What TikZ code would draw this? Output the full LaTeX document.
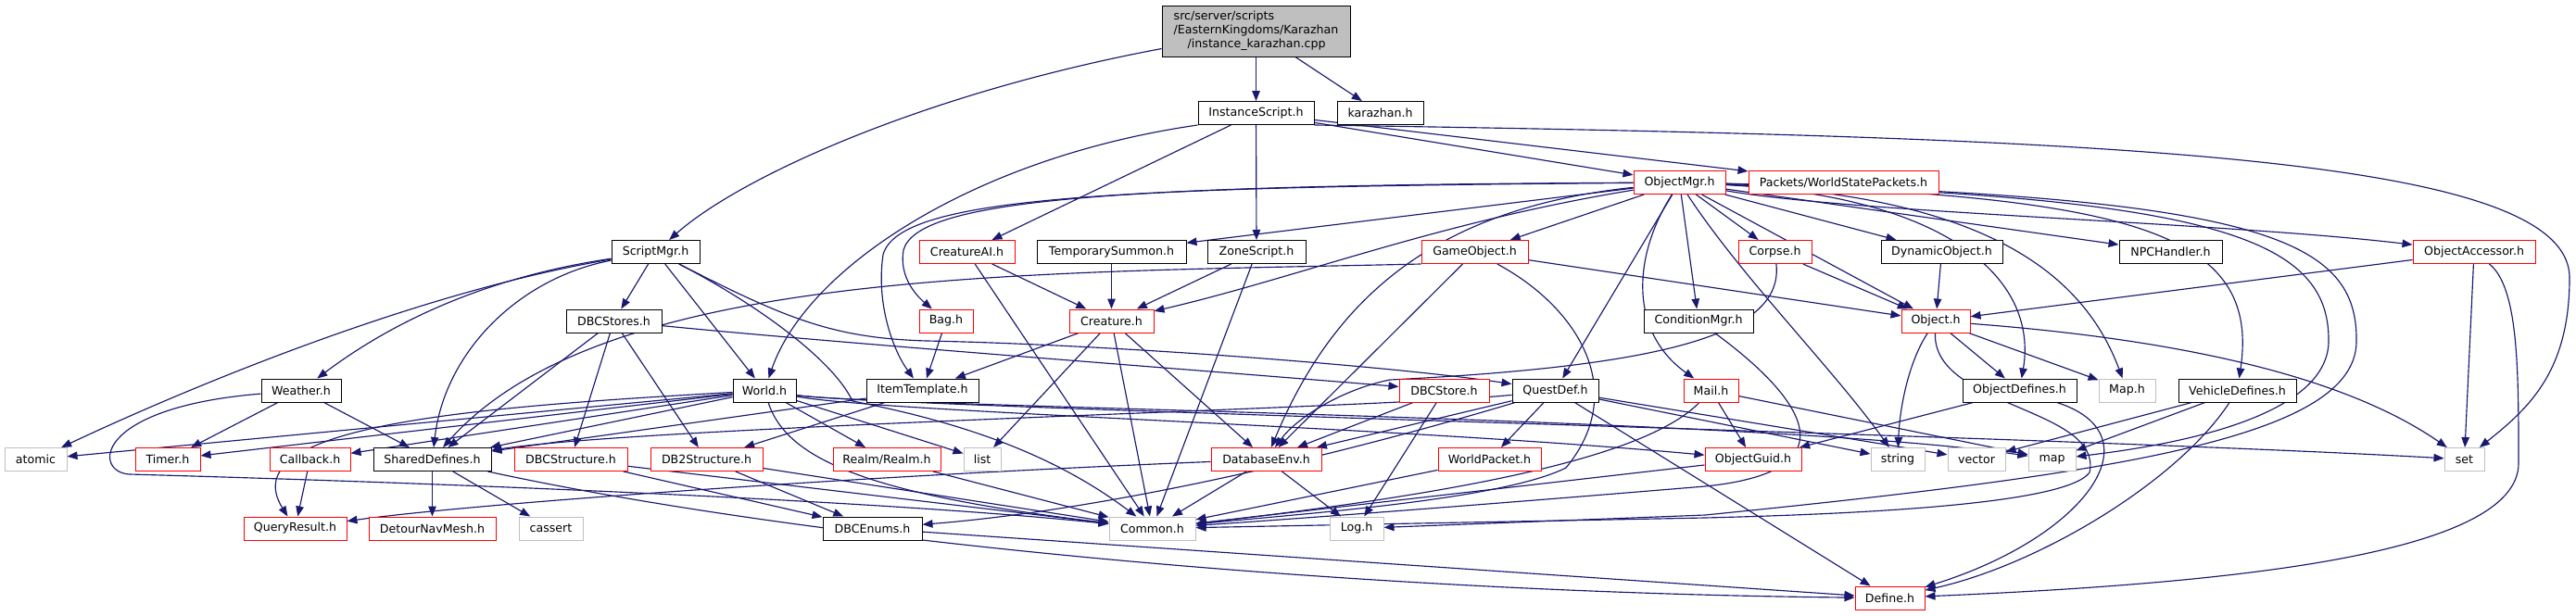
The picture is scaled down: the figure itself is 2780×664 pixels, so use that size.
\documentclass[tikz,border=0pt]{standalone}
\usepackage{fontspec}
\setmainfont{DejaVu Sans}
\usetikzlibrary{arrows.meta}
\pgfdeclarelayer{bgl}
\pgfdeclarelayer{edgel}
\pgfsetlayers{bgl,edgel,main}
\definecolor{edgec}{HTML}{191970}
\definecolor{redc}{HTML}{FF0000}
\definecolor{grayc}{HTML}{BFBFBF}
\definecolor{rootfill}{HTML}{BFBFBF}
\begin{document}
\begin{tikzpicture}[x=1pt,y=-1pt,
  nd/.style={draw=black, fill=white, line width=1pt, minimum height=25pt, inner sep=0pt, font=\fontsize{12.6}{15}\selectfont, anchor=center},
  rd/.style={nd, draw=redc},
  gd/.style={nd, draw=grayc},
  e/.style={draw=edgec, line width=1.15pt, -{Triangle[length=11pt,width=8.5pt]}},
]
\begin{pgfonlayer}{bgl}
\useasboundingbox[fill=white] (0,0) rectangle (2780,664);
\end{pgfonlayer}
% row 0-2
\node[nd, fill=rootfill, minimum width=203pt, minimum height=55pt, align=left] (root) at (1355.5,33.5) {src/server/scripts\\/EasternKingdoms/Karazhan\\\hspace*{15pt}/instance\_karazhan.cpp};
\node[nd, minimum width=125pt] (inst) at (1355.5,122) {InstanceScript.h};
\node[nd, minimum width=93pt] (kara) at (1489.5,122) {karazhan.h};
\node[rd, minimum width=99pt] (omgr) at (1812.5,197) {ObjectMgr.h};
\node[rd, minimum width=205pt] (wsp) at (1989.5,197) {Packets/WorldStatePackets.h};
% row 3
\node[nd, minimum width=95pt] (smgr) at (707.5,272) {ScriptMgr.h};
\node[rd, minimum width=103pt] (cai) at (1043.5,272) {CreatureAI.h};
\node[nd, minimum width=161pt] (tsum) at (1199.5,272) {TemporarySummon.h};
\node[nd, minimum width=106pt] (zone) at (1356,272) {ZoneScript.h};
\node[rd, minimum width=115pt] (gobj) at (1591.5,272) {GameObject.h};
\node[rd, minimum width=79pt] (corpse) at (1915.5,272) {Corpse.h};
\node[nd, minimum width=131pt] (dyn) at (2095.5,272) {DynamicObject.h};
\node[nd, minimum width=111pt] (npc) at (2342.5,272) {NPCHandler.h};
\node[rd, minimum width=132pt] (oacc) at (2670,272) {ObjectAccessor.h};
% row 4
\node[nd, minimum width=103pt] (dbcs) at (662.5,346.5) {DBCStores.h};
\node[rd, minimum width=58pt] (bag) at (1021,346.5) {Bag.h};
\node[rd, minimum width=91pt] (creature) at (1199.5,346.5) {Creature.h};
\node[nd, minimum width=118pt] (cond) at (1833,346.5) {ConditionMgr.h};
\node[rd, minimum width=74pt] (obj) at (2089,346.5) {Object.h};
% row 5
\node[nd, minimum width=86pt] (weather) at (325,421.5) {Weather.h};
\node[nd, minimum width=68pt] (world) at (825,421.5) {World.h};
\node[nd, minimum width=121pt] (item) at (995.5,421.5) {ItemTemplate.h};
\node[rd, minimum width=97pt] (dbcstore) at (1558.5,421.5) {DBCStore.h};
\node[nd, minimum width=93pt] (quest) at (1678.5,421.5) {QuestDef.h};
\node[rd, minimum width=59pt] (mail) at (1846.5,421.5) {Mail.h};
\node[nd, minimum width=123pt] (odef) at (2179.5,421.5) {ObjectDefines.h};
\node[gd, minimum width=61pt] (maph) at (2295.5,421.5) {Map.h};
\node[nd, minimum width=127pt] (veh) at (2414.5,421.5) {VehicleDefines.h};
% row 6
\node[gd, minimum width=67pt] (atomic) at (38.5,496) {atomic};
\node[rd, minimum width=70pt] (timer) at (181,496) {Timer.h};
\node[rd, minimum width=87pt] (callback) at (334.5,496) {Callback.h};
\node[nd, minimum width=127pt] (shared) at (466.5,496) {SharedDefines.h};
\node[rd, minimum width=122pt] (dbcstruct) at (616,496) {DBCStructure.h};
\node[rd, minimum width=121pt] (db2struct) at (762.5,496) {DB2Structure.h};
\node[rd, minimum width=116pt] (realm) at (957,496) {Realm/Realm.h};
\node[gd, minimum width=40pt] (list) at (1060,496) {list};
\node[rd, minimum width=119pt] (dbenv) at (1366.5,496) {DatabaseEnv.h};
\node[rd, minimum width=111pt] (wpkt) at (1607.5,496) {WorldPacket.h};
\node[rd, minimum width=104pt] (oguid) at (1892,496) {ObjectGuid.h};
\node[gd, minimum width=58pt] (string) at (2048,496) {string};
\node[gd, minimum width=62pt] (vector) at (2133,496) {vector};
\node[gd, minimum width=51pt] (map) at (2214.5,496) {map};
\node[gd, minimum width=43pt] (set) at (2659.5,496) {set};
% row 7
\node[rd, minimum width=111pt] (qres) at (318.5,570.5) {QueryResult.h};
\node[rd, minimum width=137pt] (detour) at (466.5,570.5) {DetourNavMesh.h};
\node[gd, minimum width=69pt] (cassert) at (594.5,570.5) {cassert};
\node[nd, minimum width=107pt] (dbcenum) at (941.5,570.5) {DBCEnums.h};
\node[gd, minimum width=93pt] (common) at (1243.5,570.5) {Common.h};
\node[gd, minimum width=58pt] (log) at (1464,570.5) {Log.h};
\node[rd, minimum width=75pt] (define) at (2039.5,645.5) {Define.h};

\begin{pgfonlayer}{edgel}
\draw[e] (root) .. controls (1000,100) and (800,190) .. (smgr);
\draw[e] (root) -- (inst);
\draw[e] (root) -- (kara);
\draw[e] (inst.south west) .. controls (1050,170) and (870,290) .. (world);
\draw[e] (inst) -- (cai);
\draw[e] (inst) -- (zone);
\draw[e] (inst) -- (omgr);
\draw[e] (inst) -- (wsp);
\draw[e] (inst.south east) .. controls (2300,148) and (2773,170) .. (2773,300) .. controls (2773,400) and (2730,440) .. (set);

\draw[e] (smgr) .. controls (450,315) and (200,420) .. (atomic);
\draw[e] (smgr) .. controls (520,300) and (420,350) .. (weather);
\draw[e] (smgr) .. controls (560,300) and (480,380) .. (shared);
\draw[e] (smgr) -- (dbcs);
\draw[e] (smgr) -- (world);
\draw[e] (smgr) .. controls (820,330) and (900,390) .. (920,433) .. controls (1060,460) and (1150,500) .. (common);
\draw[e] (smgr) .. controls (850,345) and (900,365) .. (1000,368) .. controls (1200,372) and (1500,395) .. (quest);

\draw[e] (cai) -- (creature);
\draw[e] (cai) -- (common);
\draw[e] (tsum) -- (creature);
\draw[e] (zone) -- (creature);
\draw[e] (zone) -- (common);

\draw[e] (omgr) .. controls (1200,200) and (990,215) .. (975,270) .. controls (970,300) and (990,320) .. (bag);
\draw[e] (omgr) .. controls (1200,202) and (970,212) .. (953,275) .. controls (945,330) and (965,380) .. (item);
\draw[e] (omgr) -- (tsum);
\draw[e] (omgr) .. controls (1550,240) and (1400,300) .. (creature);
\draw[e] (omgr) -- (gobj);
\draw[e] (omgr) .. controls (1550,225) and (1440,320) .. (dbenv);
\draw[e] (omgr) -- (quest);
\draw[e] (omgr) .. controls (1760,280) and (1760,360) .. (mail);
\draw[e] (omgr) -- (cond);
\draw[e] (omgr) -- (corpse);
\draw[e] (omgr) -- (dyn);
\draw[e] (omgr) -- (obj);
\draw[e] (omgr) -- (npc);
\draw[e] (omgr) .. controls (2000,230) and (2400,240) .. (oacc);
\draw[e] (omgr) .. controls (2300,212) and (2440,250) .. (veh);
\draw[e] (omgr) .. controls (2400,212) and (2515,260) .. (2513,370) .. controls (2510,450) and (2350,480) .. (map);
\draw[e] (omgr) .. controls (2450,212) and (2545,260) .. (2543,370) .. controls (2540,470) and (2300,510) .. (1840,556) -- (log);
\draw[e] (omgr) .. controls (2100,212) and (2200,300) .. (odef);
\draw[e] (omgr) .. controls (2150,212) and (2250,300) .. (maph);
\draw[e] (omgr) .. controls (1880,300) and (1980,400) .. (string);

\draw[e] (gobj.south west) .. controls (1100,295) and (650,290) .. (shared);
\draw[e] (gobj) -- (obj);
\draw[e] (gobj) -- (dbenv);
\draw[e] (gobj) .. controls (1700,330) and (1760,420) .. (1690,505) .. controls (1620,540) and (1400,555) .. (common);

\draw[e] (creature) -- (item);
\draw[e] (creature) -- (list);
\draw[e] (creature) -- (common);
\draw[e] (creature) -- (dbenv);
\draw[e] (bag) -- (item);
\draw[e] (corpse) -- (obj);
\draw[e] (corpse) .. controls (1925,360) and (1800,395) .. (1500,410) .. controls (1450,420) and (1400,450) .. (dbenv);
\draw[e] (dyn) -- (obj);
\draw[e] (oacc) -- (obj);
\draw[e] (oacc) -- (set);
\draw[e] (oacc) .. controls (2718,310) and (2718,400) .. (2718,500) .. controls (2718,600) and (2400,630) .. (define);
\draw[e] (cond) .. controls (1960,440) and (1990,510) .. (1840,525) .. controls (1600,545) and (1400,560) .. (common);

\draw[e] (obj) -- (odef);
\draw[e] (obj) -- (maph);
\draw[e] (obj) .. controls (2060,390) and (2050,440) .. (string);
\draw[e] (obj) .. controls (2400,370) and (2550,420) .. (set);
\draw[e] (obj) .. controls (2085,440) and (2270,440) .. (2255,510) .. controls (2230,545) and (2000,555) .. (1840,559) -- (common);

\draw[e] (odef) -- (oguid);
\draw[e] (odef) .. controls (2330,470) and (2250,580) .. (define);
\draw[e] (veh) -- (map);
\draw[e] (veh) -- (vector);
\draw[e] (veh) .. controls (2350,520) and (2200,610) .. (define);
\draw[e] (mail) -- (oguid);
\draw[e] (mail) -- (map);
\draw[e] (mail) .. controls (1780,490) and (1600,530) .. (common);

\draw[e] (quest) .. controls (1500,440) and (700,460) .. (shared);
\draw[e] (quest) -- (dbenv);
\draw[e] (quest) .. controls (1450,490) and (1200,550) .. (dbcenum);
\draw[e] (quest) -- (wpkt);
\draw[e] (quest) -- (define);
\draw[e] (quest) -- (vector);
\draw[e] (quest) -- (string);
\draw[e] (dbcstore) -- (dbenv);
\draw[e] (dbcstore) -- (log);

\draw[e] (dbcs) -- (shared);
\draw[e] (dbcs) -- (dbcstruct);
\draw[e] (dbcs) -- (db2struct);
\draw[e] (dbcs) .. controls (900,370) and (1300,400) .. (dbcstore);

\draw[e] (world) -- (atomic);
\draw[e] (world) -- (timer);
\draw[e] (world) -- (callback);
\draw[e] (world) -- (shared);
\draw[e] (world) .. controls (500,440) and (250,460) .. (qres);
\draw[e] (world) -- (list);
\draw[e] (world) -- (realm);
\draw[e] (world) .. controls (850,500) and (950,535) .. (common);
\draw[e] (world) .. controls (950,445) and (1500,460) .. (oguid);
\draw[e] (world) .. controls (950,440) and (1900,450) .. (map);
\draw[e] (world) .. controls (950,440) and (2200,470) .. (set);
\draw[e] (item) -- (shared);
\draw[e] (item) -- (db2struct);
\draw[e] (weather) -- (timer);
\draw[e] (weather) -- (shared);
\draw[e] (weather) .. controls (100,440) and (100,510) .. (140,512) .. controls (600,525) and (1000,545) .. (common);

\draw[e] (shared) -- (detour);
\draw[e] (shared) -- (cassert);
\draw[e] (shared) .. controls (900,590) and (1500,640) .. (define);
\draw[e] (callback) -- (qres);
\draw[e] (dbcstruct) -- (dbcenum);
\draw[e] (dbcstruct) -- (common);
\draw[e] (db2struct) -- (dbcenum);
\draw[e] (db2struct) -- (common);
\draw[e] (realm) -- (common);
\draw[e] (dbenv) -- (common);
\draw[e] (dbenv) -- (log);
\draw[e] (dbenv) .. controls (900,515) and (500,545) .. (qres);
\draw[e] (wpkt) -- (common);
\draw[e] (oguid) -- (common);
\draw[e] (dbcenum) -- (define);
\end{pgfonlayer}
\end{tikzpicture}
\end{document}
